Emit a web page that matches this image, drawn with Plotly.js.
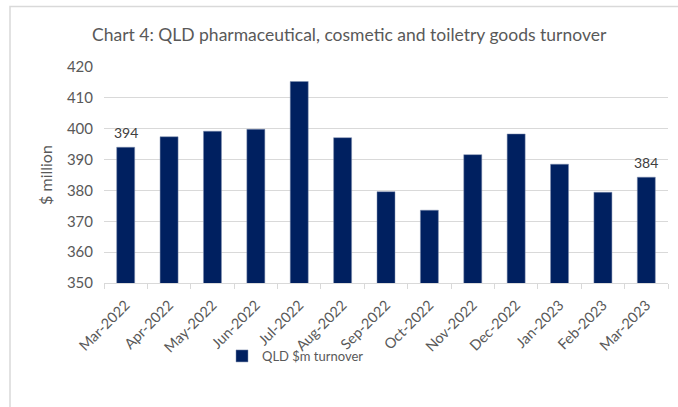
<!DOCTYPE html>
<html>
<head>
<meta charset="utf-8">
<script src="https://cdn.plot.ly/plotly-3.0.1.min.js"></script>
<style>html,body{margin:0;padding:0;background:#fff;}#chart{width:678px;height:407px;}</style>
</head>
<body>
<div id="chart"></div>
<script>
const months = ["Mar-2022","Apr-2022","May-2022","Jun-2022","Jul-2022","Aug-2022","Sep-2022","Oct-2022","Nov-2022","Dec-2022","Jan-2023","Feb-2023","Mar-2023"];
const turnover = [394.0, 397.4, 399.2, 399.8, 415.3, 397.1, 379.6, 373.6, 391.6, 398.3, 388.5, 379.4, 384.3];
const yTicks = [350, 360, 370, 380, 390, 400, 410, 420];
const labelled = [0, months.length - 1];

const W = 678, H = 407;
const m = {l: 104, r: 10, t: 67, b: 124};
const pw = W - m.l - m.r, ph = H - m.t - m.b;
const px = x => (x - m.l) / pw;
const py = y => (H - m.b - y) / ph;

const font = "Lato, 'Open Sans', sans-serif";
const trace = {
  type: "bar",
  x: months,
  y: turnover,
  name: "QLD $m turnover",
  marker: {color: "#002060", line: {color: "#8090b0", width: 0.5}},
  hoverinfo: "x+y"
};

const annotations = labelled.map(i => ({
  x: months[i], y: turnover[i], xref: "x", yref: "y",
  text: String(Math.round(turnover[i])),
  showarrow: false, yanchor: "bottom", yshift: 4,
  font: {family: font, size: 14, color: "#404040"}
}));

const layout = {
  width: W, height: H,
  margin: m,
  paper_bgcolor: "#fff", plot_bgcolor: "#fff",
  font: {family: font, color: "#595959"},
  bargap: 0.585,
  title: {text: "Chart 4: QLD pharmaceutical, cosmetic and toiletry goods turnover", font: {family: font, size: 17.5, color: "#595959"}, x: 0.515, xanchor: "center", y: 1 - 35/H, yanchor: "middle"},
  xaxis: {
    type: "category",
    tickangle: -45,
    tickfont: {family: font, size: 14.5, color: "#595959"},
    ticklabelstandoff: 7,
    showline: true, linecolor: "#d9d9d9", linewidth: 1,
    ticks: "outside", tickson: "boundaries", ticklen: 5, tickcolor: "#d9d9d9",
    showgrid: false, fixedrange: true
  },
  yaxis: {
    range: [350, 420],
    tickvals: yTicks,
    ticktext: yTicks.map(String),
    tickfont: {family: font, size: 15, color: "#595959"},
    ticklabelstandoff: 10,
    showgrid: true, gridcolor: "#d9d9d9", gridwidth: 1,
    zeroline: false, showline: false, ticks: "",
    title: {text: "$ million", font: {family: font, size: 16, color: "#595959"}, standoff: 10},
    fixedrange: true
  },
  annotations: annotations,
  showlegend: true,
  legend: {orientation: "h", x: px(222), xanchor: "left", y: py(356), yanchor: "middle", bgcolor: "rgba(0,0,0,0)", font: {family: font, size: 13, color: "#595959"}},
  shapes: [{type: "rect", xref: "paper", yref: "paper", x0: px(10), x1: px(700), y0: py(430), y1: py(6.5), line: {color: "#d9d9d9", width: 1.5}, fillcolor: "rgba(0,0,0,0)", layer: "below"}]
};

Plotly.newPlot("chart", [trace], layout, {displayModeBar: false, staticPlot: true});
</script>
</body>
</html>
